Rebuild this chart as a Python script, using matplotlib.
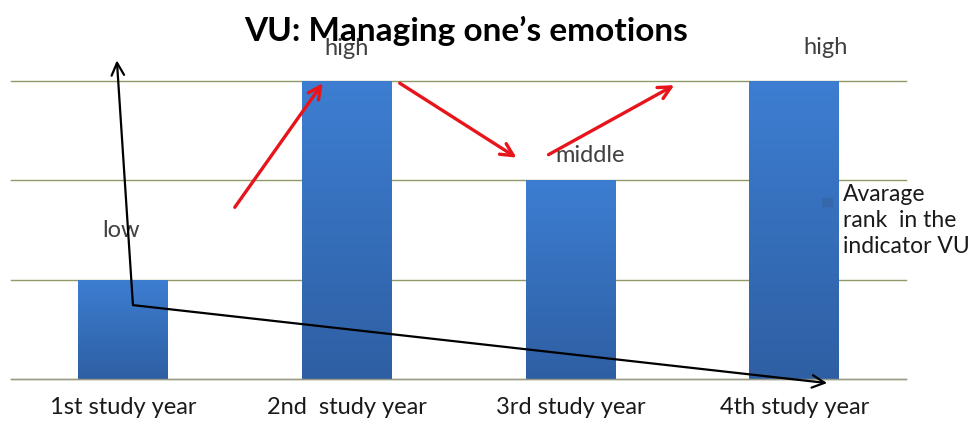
import matplotlib.pyplot as plt
import numpy as np
from matplotlib.colors import LinearSegmentedColormap

# chart data
categories = ['1st study year', '2nd  study year', '3rd study year', '4th study year']
rank_values = [1, 3, 2, 3]
rank_labels = ['low', 'high', 'middle', 'high']
label_dx = [-0.01, 0.0, 0.09, 0.14]   # small horizontal shift of the value labels
label_dy = [0.5, 0.33, 0.25, 0.34]
series_name = 'Avarage\nrank  in the\nindicator VU'

# hand drawn arrows on the slide (data coordinates: start, end, colour, width)
arrows = [
    ((0.50, 1.73), (0.893, 2.98), '#e8141b', 2.4),
    ((1.237, 2.98), (1.759, 2.23), '#e8141b', 2.4),
    ((1.902, 2.26), (2.464, 2.96), '#e8141b', 2.4),
    ((0.045, 0.745), (-0.027, 3.21), 'black', 1.6),
    ((0.045, 0.745), (3.147, -0.04), 'black', 1.6),
]

plt.rcParams['font.family'] = ['Lato', 'DejaVu Sans']

fig = plt.figure(figsize=(9.74, 4.25), dpi=100)
ax = fig.add_axes([0.0113, 0.108, 0.919, 0.701])

x = np.arange(len(categories))
bars = ax.bar(x, rank_values, width=0.4, color='none', edgecolor='none', zorder=2)

# vertical gradient fill for each bar
cmap = LinearSegmentedColormap.from_list('bar', ['#2e5fa3', '#3d7ed2'])
grad = np.linspace(0, 1, 256).reshape(-1, 1)
for b in bars:
    x0, y0 = b.get_x(), b.get_y()
    im = ax.imshow(grad, cmap=cmap, origin='lower', aspect='auto',
                   extent=(x0, x0 + b.get_width(), y0, y0 + b.get_height()), zorder=2)
    im.set_clip_path(b)

ax.set_xlim(-0.5, len(categories) - 0.5)
ax.set_ylim(0, 3)

# horizontal grid lines
ax.set_yticks([0, 1, 2, 3])
ax.tick_params(axis='y', left=False, labelleft=False)
for yv in ax.get_yticks():
    ax.axhline(yv, color='#8f9a66', linewidth=1.0, zorder=0, clip_on=False)
ax.axhline(0, color='#9a9a8a', linewidth=1.0, zorder=3, clip_on=False)
for s in ax.spines.values():
    s.set_visible(False)

ax.set_xticks(x)
ax.set_xticklabels(categories, fontsize=17, color='#1a1a1a')
ax.tick_params(axis='x', length=0, pad=13)

# value labels
for i, v in enumerate(rank_values):
    ax.text(x[i] + label_dx[i], v + label_dy[i], rank_labels[i], ha='center', va='center',
            fontsize=17, color='#404040', clip_on=False, zorder=3)

for start, end, col, lw in arrows:
    ax.annotate('', xy=end, xytext=start, annotation_clip=False,
                arrowprops=dict(arrowstyle='->,head_length=0.9,head_width=0.45',
                                color=col, lw=lw, shrinkA=0, shrinkB=0), zorder=4)

fig.text(0.479, 0.928, 'VU: Managing one\u2019s emotions', ha='center', va='center',
         fontsize=24, fontweight='bold', color='black')

# legend
fig.patches.append(plt.Rectangle((822 / 974, 1 - 206 / 425), 10 / 974, 8 / 425,
                                 transform=fig.transFigure, color='#3567ad', figure=fig))
fig.text(843 / 974, 1 - 184 / 425, series_name, ha='left', va='top',
         fontsize=16.5, color='#1a1a1a', linespacing=1.3)

fig.savefig('out.png', dpi=100)
